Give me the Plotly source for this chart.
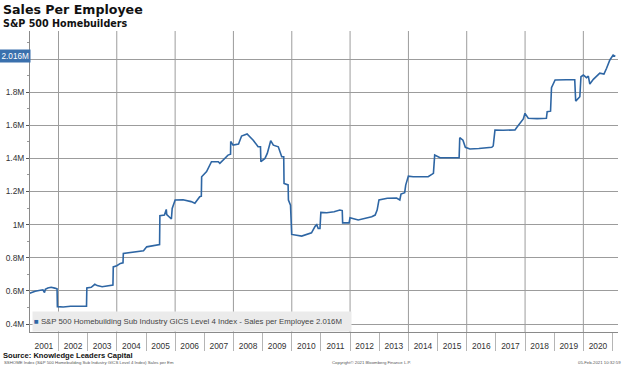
import plotly.graph_objects as go

# ---------------- data ----------------
dates = [
    "2001-01-03", "2001-02-01", "2001-03-15", "2001-05-01", "2001-06-20", "2001-07-10", "2001-07-20",
    "2001-08-20", "2001-10-01", "2001-11-15", "2001-12-14", "2001-12-18", "2002-03-01", "2002-06-01",
    "2002-09-01", "2002-12-18", "2002-12-22", "2003-02-15", "2003-04-01", "2003-05-01", "2003-07-01",
    "2003-09-01", "2003-11-14", "2003-11-18", "2004-01-01", "2004-02-15", "2004-03-19", "2004-03-23",
    "2004-06-01", "2004-08-01", "2004-10-01", "2004-12-01", "2005-01-10", "2005-03-15", "2005-06-20",
    "2005-06-24", "2005-08-20", "2005-09-12", "2005-09-18", "2005-11-15", "2005-11-25", "2006-01-01",
    "2006-04-10", "2006-07-20", "2006-09-05", "2006-11-05", "2006-11-25", "2006-11-29", "2007-01-30",
    "2007-04-01", "2007-06-25", "2007-07-15", "2007-09-15", "2007-10-25", "2007-11-26", "2007-11-28",
    "2007-12-28", "2008-03-05", "2008-04-12", "2008-06-20", "2008-09-05", "2008-11-05", "2008-12-05",
    "2008-12-10", "2009-01-30", "2009-02-28", "2009-04-12", "2009-05-15", "2009-07-16", "2009-08-28",
    "2009-09-22", "2009-09-26", "2009-11-16", "2009-11-20", "2009-12-16", "2009-12-31", "2010-05-05",
    "2010-09-05", "2010-10-20", "2010-11-10", "2010-11-28", "2010-12-20", "2010-12-31", "2011-03-15",
    "2011-06-15", "2011-08-25", "2011-09-25", "2011-09-30", "2011-12-20", "2011-12-31", "2012-04-12",
    "2012-09-28", "2012-11-10", "2012-12-05", "2012-12-28", "2013-04-12", "2013-08-05", "2013-09-15",
    "2013-09-30", "2013-11-15", "2013-11-28", "2013-12-31", "2014-03-01", "2014-09-05", "2014-11-10",
    "2014-11-26", "2015-02-01", "2015-09-28", "2015-10-06", "2015-11-15", "2015-12-15", "2016-02-10",
    "2016-06-01", "2016-11-10", "2016-11-28", "2016-12-20", "2017-04-01", "2017-08-28", "2017-09-16",
    "2017-10-30", "2017-12-10", "2017-12-31", "2018-02-10", "2018-06-01", "2018-09-25", "2018-10-05",
    "2018-11-16", "2018-11-28", "2019-01-12", "2019-06-01", "2019-09-15", "2019-09-27", "2019-11-18",
    "2019-12-02", "2020-01-01", "2020-02-10", "2020-03-03", "2020-03-22", "2020-05-05", "2020-07-25",
    "2020-09-15", "2020-10-18", "2020-11-28", "2021-01-08", "2021-02-05",
]
sales_per_employee_m = [
    0.585, 0.592, 0.598, 0.603, 0.607, 0.590, 0.610,
    0.618, 0.622, 0.617, 0.612, 0.505, 0.503, 0.507,
    0.508, 0.507, 0.618, 0.622, 0.640, 0.632, 0.625,
    0.630, 0.635, 0.745, 0.752, 0.766, 0.770, 0.826,
    0.830, 0.833, 0.838, 0.842, 0.866, 0.872, 0.880,
    1.054, 1.058, 1.092, 1.060, 1.034, 1.098, 1.149,
    1.150, 1.139, 1.129, 1.169, 1.172, 1.289, 1.320,
    1.380, 1.380, 1.370, 1.400, 1.420, 1.425, 1.502,
    1.480, 1.487, 1.535, 1.547, 1.510, 1.470, 1.470,
    1.380, 1.400, 1.430, 1.507, 1.480, 1.470, 1.410,
    1.410, 1.249, 1.240, 1.149, 1.118, 0.941, 0.931,
    0.951, 0.990, 1.000, 0.977, 0.977, 1.074, 1.072,
    1.078, 1.088, 1.085, 1.011, 1.011, 1.042, 1.028,
    1.048, 1.058, 1.088, 1.149, 1.159, 1.160, 1.149,
    1.185, 1.193, 1.239, 1.293, 1.289, 1.289, 1.310,
    1.420, 1.404, 1.404, 1.525, 1.510, 1.467, 1.457,
    1.460, 1.467, 1.475, 1.571, 1.570, 1.572, 1.585,
    1.615, 1.638, 1.672, 1.642, 1.640, 1.642, 1.682,
    1.685, 1.827, 1.873, 1.875, 1.875, 1.746, 1.772,
    1.893, 1.903, 1.887, 1.897, 1.849, 1.877, 1.914,
    1.909, 1.944, 1.994, 2.024, 2.016,
]
years = list(range(2001, 2021))
year_labels = [str(y) for y in years]
grid_years = list(range(2002, 2021, 2))
y_ticks = [0.4, 0.6, 0.8, 1.0, 1.2, 1.4, 1.6, 1.8, 2.0]
y_tick_labels = ["0.4M", "0.6M", "0.8M", "1M", "1.2M", "1.4M", "1.6M", "1.8M", ""]
last_label = "2.016M"
last_value = 2.016
series_name = "S&P 500 Homebuilding Sub Industry GICS Level 4 Index - Sales per Employee 2.016M"

# ---------------- figure ----------------
W, H = 624, 367
L, R, T, B = 30, 6, 31, 35
PW, PH = W - L - R, H - T - B


def px(x):
    return (x - L) / PW


def py(y):
    return (H - B - y) / PH


LINE = "#2e66a4"
GRID = "#9c9c9c"
SANS = "Liberation Sans, Arial, sans-serif"

fig = go.Figure()
fig.add_trace(go.Scatter(
    x=dates, y=sales_per_employee_m, mode="lines",
    line=dict(color=LINE, width=1.6), hoverinfo="skip", showlegend=False,
))

shapes = [
    dict(type="line", xref="x", yref="paper", x0=f"{y}-01-01", x1=f"{y}-01-01", y0=0, y1=1,
         line=dict(color=GRID, width=1), layer="below")
    for y in grid_years
]

annotations = [
    dict(text="<b>Sales Per Employee</b>", xref="paper", yref="paper", x=px(1), y=py(9.5),
         xanchor="left", yanchor="middle", showarrow=False,
         font=dict(family="DejaVu Sans", size=12.6, color="#111")),
    dict(text="<b>S&P 500 Homebuilders</b>", xref="paper", yref="paper", x=px(1), y=py(23),
         xanchor="left", yanchor="middle", showarrow=False,
         font=dict(family="DejaVu Sans", size=9.6, color="#111")),
    dict(text="<b>Source: Knowledge Leaders Capital</b>", xref="paper", yref="paper", x=px(1), y=py(355),
         xanchor="left", yanchor="middle", showarrow=False,
         font=dict(family=SANS, size=7.6, color="#111")),
    dict(text="SSHOME Index (S&P 500 Homebuilding Sub Industry GICS Level 4 Index) Sales per Em",
         xref="paper", yref="paper", x=px(2), y=py(363), xanchor="left", yanchor="middle",
         showarrow=False, font=dict(family=SANS, size=4.3, color="#555")),
    dict(text="Copyright© 2021 Bloomberg Finance L.P.", xref="paper", yref="paper", x=px(330), y=py(362),
         xanchor="left", yanchor="middle", showarrow=False, font=dict(family=SANS, size=4.3, color="#555")),
    dict(text="05-Feb-2021 10:32:59", xref="paper", yref="paper", x=px(623), y=py(362),
         xanchor="right", yanchor="middle", showarrow=False, font=dict(family=SANS, size=4.3, color="#555")),
    # legend box
    dict(text=f"<span style='color:{LINE}'>■</span> {series_name}", xref="paper", yref="paper",
         x=px(32), y=py(331.5), xanchor="left", yanchor="bottom", showarrow=False, align="left",
         width=316, height=17, bgcolor="#ebebeb", borderpad=1,
         font=dict(family=SANS, size=7.8, color="#444")),
    # last value tag
    dict(text=last_label, xref="paper", yref="y", x=px(31), y=last_value, xanchor="right",
         yanchor="middle", showarrow=False, bgcolor="#3a70ad", borderpad=1.5,
         font=dict(family=SANS, size=8.2, color="white")),
]

fig.update_layout(
    width=W, height=H, margin=dict(l=L, r=R, t=T, b=B, pad=0),
    paper_bgcolor="white", plot_bgcolor="white", showlegend=False,
    shapes=shapes, annotations=annotations,
    xaxis=dict(
        type="date", range=["2001-01-09", "2021-03-10"], automargin=False,
        tickmode="array", tickvals=[f"{y}-07-02" for y in years], ticktext=year_labels,
        ticks="outside", ticklen=6, tickcolor="rgba(0,0,0,0)",
        showgrid=False, zeroline=False, showline=True, linecolor="#8a8a8a", linewidth=1,
        tickfont=dict(family=SANS, size=8.4, color="#333"),
        minor=dict(tickmode="array", tickvals=[f"{y}-01-01" for y in range(2002, 2022)],
                   ticks="outside", ticklen=18, tickcolor="#b5b5b5", showgrid=False),
    ),
    yaxis=dict(
        range=[0.352, 2.169], tickmode="array", tickvals=y_ticks, ticktext=y_tick_labels,
        automargin=False,
        showgrid=True, gridcolor=GRID, gridwidth=1, zeroline=False,
        showline=True, linecolor="#8a8a8a", linewidth=1,
        ticks="outside", ticklen=3, tickcolor="#555",
        tickfont=dict(family=SANS, size=8.4, color="#333"),
        minor=dict(dtick=0.1, tick0=0, ticks="outside", ticklen=2, tickcolor="#999", showgrid=False),
    ),
)

fig.write_html(
    "out.html",
    config={"displayModeBar": False, "staticPlot": True},
    post_script="document.body.style.margin='0';document.body.style.overflow='hidden';",
)
